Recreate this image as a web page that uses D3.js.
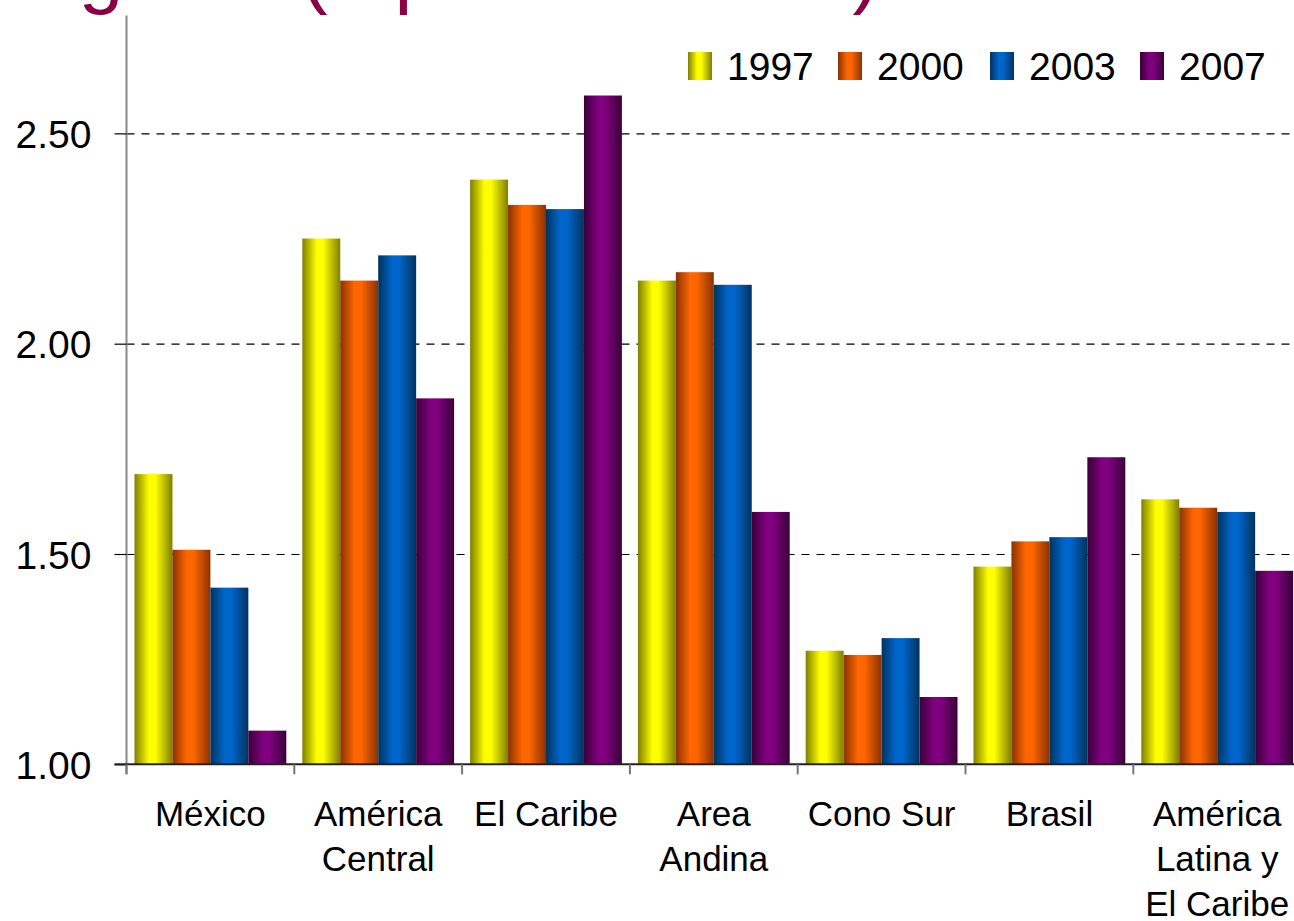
<!DOCTYPE html>
<html>
<head>
<meta charset="utf-8">
<script src="https://cdn.jsdelivr.net/npm/d3@7"></script>
<style>
  html, body { margin: 0; padding: 0; background: #fff; }
  svg { display: block; font-family: "Liberation Sans", Arial, sans-serif; }
</style>
</head>
<body>
<svg id="chart" width="1294" height="921"></svg>
<script>
// Regions (category axis) and the years shown as series
const categories = ["México", "América\nCentral", "El Caribe", "Area\nAndina", "Cono Sur", "Brasil", "América\nLatina y\nEl Caribe"];
const years = ["1997", "2000", "2003", "2007"];

// Values per year, one entry per region
const v1997 = [1.69, 2.25, 2.39, 2.15, 1.27, 1.47, 1.63];
const v2000 = [1.51, 2.15, 2.33, 2.17, 1.26, 1.53, 1.61];
const v2003 = [1.42, 2.21, 2.32, 2.14, 1.30, 1.54, 1.60];
const v2007 = [1.08, 1.87, 2.59, 1.60, 1.16, 1.73, 1.46];

const yTicks = [1.0, 1.5, 2.0, 2.5];
const titleText = "Ingreso (a precios 2000)";

// Gradient colours per series: [edge, centre]
const seriesColors = [
  ["#7f7f00", "#ffff00"],
  ["#8a3200", "#ff6600"],
  ["#00335f", "#0066cc"],
  ["#3a0038", "#800080"]
];

const seriesValues = [v1997, v2000, v2003, v2007];

const svg = d3.select("#chart");
const margin = { left: 126.5, top: 15.6, bottom: 764.3 };
const plotRight = 126.5 + 7 * 167.8;

const x0 = d3.scaleBand().domain(d3.range(categories.length)).range([margin.left, plotRight]).paddingInner(0).paddingOuter(0);
const x1 = d3.scaleBand().domain(d3.range(years.length)).range([8, x0.bandwidth() - 8]).padding(0);
const y = d3.scaleLinear().domain([1, 2.78]).range([margin.bottom, margin.top]);

// Horizontal gradients (dark edges, bright centre)
const defs = svg.append("defs");
seriesColors.forEach((c, i) => {
  const g = defs.append("linearGradient").attr("id", "grad" + i)
    .attr("x1", "0%").attr("x2", "100%").attr("y1", "0%").attr("y2", "0%");
  g.append("stop").attr("offset", "0%").attr("stop-color", c[0]);
  g.append("stop").attr("offset", "38%").attr("stop-color", c[1]);
  g.append("stop").attr("offset", "55%").attr("stop-color", c[1]);
  g.append("stop").attr("offset", "100%").attr("stop-color", c[0]);
});

// Title (sits mostly above the visible area, only descenders show)
svg.append("text")
  .attr("x", 12).attr("y", -2)
  .attr("font-size", 80)
  .attr("fill", "#8b0045")
  .text(titleText);

// Dashed gridlines
const grid = svg.append("g")
  .attr("transform", `translate(${margin.left},0)`)
  .call(d3.axisLeft(y).tickValues(yTicks.filter(d => d > 1)).tickSize(-(plotRight - margin.left)).tickFormat(""));
grid.select(".domain").remove();
grid.selectAll(".tick line")
  .attr("stroke", "#000").attr("stroke-width", 1.2).attr("stroke-dasharray", "8,7");

// Bars
const groups = svg.append("g").selectAll("g")
  .data(categories.map((c, i) => i))
  .join("g")
  .attr("transform", i => `translate(${x0(i)},0)`);

groups.selectAll("rect")
  .data(i => seriesValues.map((vals, s) => ({ s, v: vals[i] })))
  .join("rect")
  .attr("x", d => x1(d.s))
  .attr("width", x1.bandwidth())
  .attr("y", d => y(d.v))
  .attr("height", d => y(1) - y(d.v))
  .attr("fill", d => `url(#grad${d.s})`);

// Y axis
const yAxis = svg.append("g")
  .attr("transform", `translate(${margin.left},0)`)
  .call(d3.axisLeft(y).tickValues(yTicks).tickSize(12).tickPadding(23).tickFormat(d3.format(".2f")));
yAxis.select(".domain").attr("stroke", "#888").attr("stroke-width", 2)
  .attr("d", `M0,${margin.top}V${margin.bottom + 10}`);
yAxis.selectAll(".tick line").attr("stroke", "#000").attr("stroke-width", 1.2);
yAxis.selectAll(".tick text")
  .attr("font-size", 39).attr("fill", "#000")
  .attr("font-family", "Liberation Sans, Arial, sans-serif")
  .attr("dy", "0.36em");

// Baseline
svg.append("line")
  .attr("x1", margin.left - 12).attr("x2", plotRight)
  .attr("y1", y(1)).attr("y2", y(1))
  .attr("stroke", "#222").attr("stroke-width", 2);

// Category separator ticks
const sepX = d3.range(categories.length).map(i => x0(i)).concat([plotRight]);
svg.append("g").selectAll("line")
  .data(sepX)
  .join("line")
  .attr("x1", d => d).attr("x2", d => d)
  .attr("y1", y(1)).attr("y2", y(1) + 10)
  .attr("stroke", "#777").attr("stroke-width", 2);

// Category labels via bottom axis
const xAxis = svg.append("g")
  .attr("transform", `translate(0,${y(1)})`)
  .call(d3.axisBottom(x0).tickSize(0).tickFormat(""));
xAxis.select(".domain").remove();
xAxis.selectAll(".tick text").remove();
xAxis.selectAll(".tick").each(function (i) {
  const lines = categories[i].split("\n");
  const t = d3.select(this).append("text")
    .attr("text-anchor", "middle")
    .attr("font-size", 35)
    .attr("fill", "#000")
    .attr("font-family", "Liberation Sans, Arial, sans-serif");
  lines.forEach((ln, k) => {
    t.append("tspan").attr("x", 0).attr("y", 62 + k * 45).text(ln);
  });
});

// Legend
const legendX = [688, 838, 990, 1140];
const legend = svg.append("g").selectAll("g")
  .data(years)
  .join("g")
  .attr("transform", (d, i) => `translate(${legendX[i]},52)`);
legend.append("rect")
  .attr("width", 24).attr("height", 28)
  .attr("fill", (d, i) => `url(#grad${i})`);
legend.append("text")
  .attr("x", 39).attr("y", 28)
  .attr("font-size", 39).attr("fill", "#000")
  .text(d => d);
</script>
</body>
</html>
